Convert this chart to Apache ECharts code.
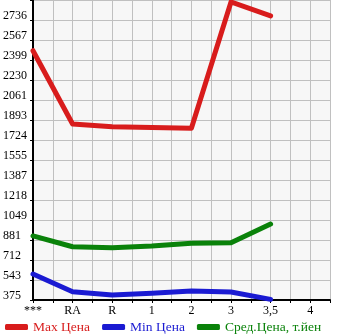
<!DOCTYPE html>
<html lang="ru">
<head>
<meta charset="UTF-8">
<title>prices</title>
<script src="https://cdn.jsdelivr.net/npm/echarts@6/dist/echarts.min.js"></script>
<style>
  body { margin: 0; background: #fff; }
  #main { width: 345px; height: 335px; }
</style>
</head>
<body>
<div id="main"></div>
<script>
    // категории по оси X (позиции 0..7)
    var categories = ['***', 'RA', 'R', '1', '2', '3', '3,5', '4'];
    // подписи оси Y
    var yLabels = ['375', '543', '712', '881', '1049', '1218', '1387', '1555',
        '1724', '1893', '2061', '2230', '2399', '2567', '2736'];

    var maxPrices = [2477, 1859, 1836, 1830, 1823, 2888, 2770];
    var minPrices = [594, 445, 417, 431, 451, 442, 380];
    var avgPrices = [915, 824, 816, 830, 853, 858, 1016];

    var names = ['Max Цена', 'Min Цена', 'Сред.Цена, т.йен'];
    var colors = ['#d81c1c', '#1a1ad2', '#0a820a'];

    var yMin = 375;
    var yStep = (2736 - 375) / 14;

    var toPoints = function (arr) {
        return arr.map(function (v, i) { return [i, v]; });
    };

    var font = 'Liberation Serif';

    var option = {
        animation: false,
        textStyle: { fontFamily: font },
        grid: {
            left: 30, top: 0, width: 300, height: 300,
            show: true, backgroundColor: '#f7f7f7', borderWidth: 0
        },
        xAxis: {
            type: 'value',
            min: 0, max: 7.5, interval: 0.5,
            axisLine: { lineStyle: { color: '#000', width: 2 } },
            axisTick: { length: 3, lineStyle: { color: '#000' } },
            splitLine: { show: true, lineStyle: { color: '#c0c0c0', width: 1 } },
            axisLabel: {
                margin: 5, color: '#000', fontSize: 12, fontFamily: font,
                showMinLabel: true, showMaxLabel: true,
                formatter: function (v) {
                    return (v % 1 === 0 && categories[v] !== undefined) ? categories[v] : '';
                }
            }
        },
        yAxis: {
            type: 'value',
            min: yMin, max: yMin + 15 * yStep, interval: yStep,
            axisLine: { show: true, lineStyle: { color: '#000', width: 2 } },
            axisTick: { show: true, length: 3, lineStyle: { color: '#000' } },
            splitLine: { show: true, lineStyle: { color: '#c0c0c0', width: 1 } },
            axisLabel: {
                margin: 30, align: 'left', verticalAlign: 'bottom', lineHeight: 8,
                color: '#000', fontSize: 12, fontFamily: font,
                formatter: function (v, idx) {
                    return yLabels[idx] || '';
                }
            }
        },
        legend: {
            left: 0, top: 315, padding: 5,
            icon: 'roundRect', itemWidth: 23, itemHeight: 6, itemGap: 12,
            textStyle: { fontSize: 13.5, fontFamily: font },
            data: names.map(function (n, i) {
                return { name: n, textStyle: { color: colors[i] } };
            })
        },
        series: [maxPrices, minPrices, avgPrices].map(function (arr, i) {
            return {
                name: names[i],
                type: 'line',
                data: toPoints(arr),
                showSymbol: false,
                symbol: 'none',
                clip: false,
                color: colors[i],
                lineStyle: { width: 5, color: colors[i], cap: 'round', join: 'round' }
            };
        })
    };

    var myChart = echarts.init(document.getElementById('main'));
    myChart.setOption(option);
</script>
</body>
</html>
